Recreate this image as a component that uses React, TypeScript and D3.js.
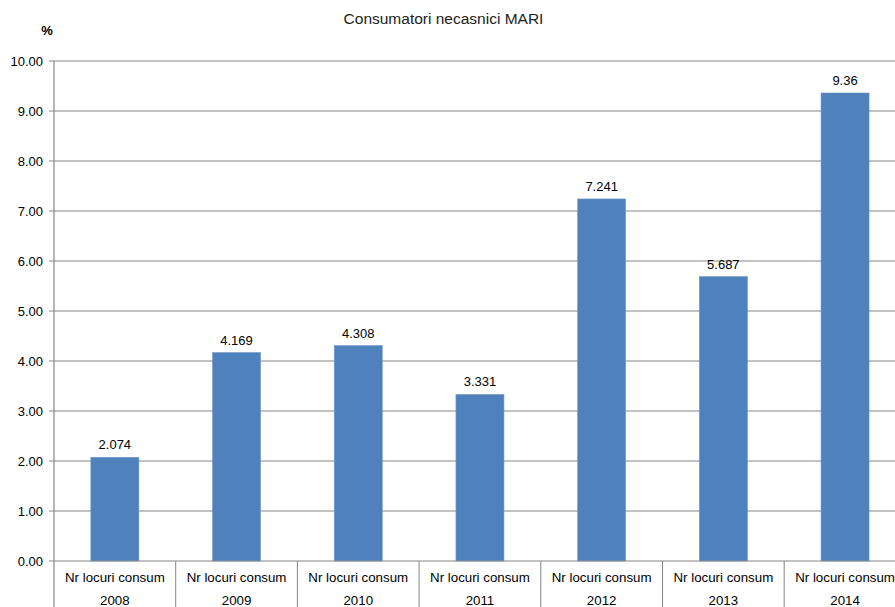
import React from "react";
import * as d3 from "d3";

const categories = ["2008", "2009", "2010", "2011", "2012", "2013", "2014"];
const catLabel = "Nr locuri consum";
const values = [2.074, 4.169, 4.308, 3.331, 7.241, 5.687, 9.36];
const valueLabels = ["2.074", "4.169", "4.308", "3.331", "7.241", "5.687", "9.36"];
const yTicks = [0, 1, 2, 3, 4, 5, 6, 7, 8, 9, 10];
const title = "Consumatori necasnici MARI";

export default function App() {
  const W = 895, H = 607;
  const left = 54, top = 61, bottom = 561;
  const bandW = 121.7;
  const x = d3.scaleBand<string>().domain(categories).range([left, left + bandW * categories.length]).paddingInner(0).paddingOuter(0);
  const y = d3.scaleLinear().domain([0, 10]).range([bottom, top]);
  const barW = 48;
  const font = "'Liberation Sans', Arial, sans-serif";
  return (
    <svg width={W} height={H} style={{ position: "absolute", left: 0, top: 0, background: "#fff" }} fontFamily={font}>
      <text x={443.5} y={24} textAnchor="middle" fontSize={15.5} fill="#222">{title}</text>
      <text x={47} y={35} textAnchor="middle" fontSize={13} fontWeight="bold" fill="#000">%</text>
      {yTicks.map((t) => (
        <g key={t}>
          {t > 0 && <line x1={left} x2={W} y1={y(t)} y2={y(t)} stroke="#868686" strokeWidth={1} />}
          <line x1={left - 5} x2={left} y1={y(t)} y2={y(t)} stroke="#868686" strokeWidth={1} />
          <text x={left - 11} y={y(t) + 4.5} textAnchor="end" fontSize={13} fill="#000">{t.toFixed(2)}</text>
        </g>
      ))}
      {categories.map((c, i) => {
        const cx = (x(c) as number) + x.bandwidth() / 2;
        return (
          <g key={c}>
            <rect x={cx - barW / 2} y={y(values[i])} width={barW} height={bottom - y(values[i])} fill="#4F81BD" stroke="#6f97c9" strokeWidth={0.6} />
            <text x={cx} y={y(values[i]) - 8} textAnchor="middle" fontSize={13} fill="#000">{valueLabels[i]}</text>
            <text x={cx} y={582} textAnchor="middle" fontSize={13.3} fill="#000">{catLabel}</text>
            <text x={cx} y={605} textAnchor="middle" fontSize={13.3} fill="#000">{c}</text>
            <line x1={(x(c) as number) + x.bandwidth()} x2={(x(c) as number) + x.bandwidth()} y1={bottom} y2={H} stroke="#868686" strokeWidth={1} />
          </g>
        );
      })}
      <line x1={left} x2={left} y1={top} y2={H} stroke="#868686" strokeWidth={1.2} />
      <line x1={left} x2={W} y1={bottom} y2={bottom} stroke="#868686" strokeWidth={1.2} />
    </svg>
  );
}
